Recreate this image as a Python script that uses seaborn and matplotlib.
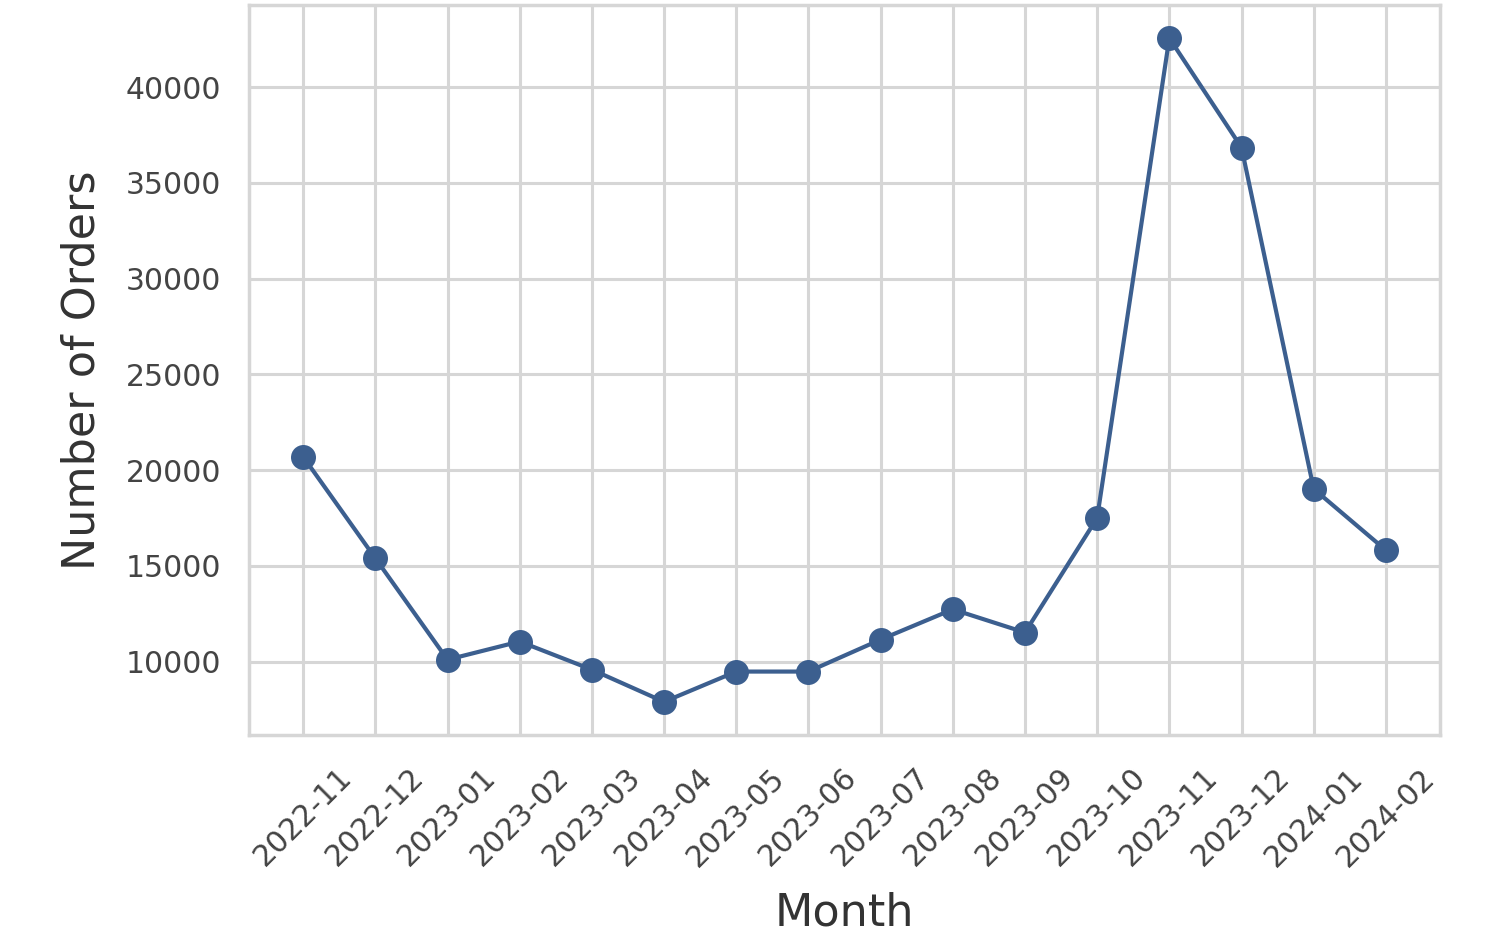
import pandas as pd
import matplotlib
matplotlib.use("Agg")
import matplotlib.pyplot as plt
import seaborn as sns

# monthly order counts
months = ['2022-11', '2022-12', '2023-01', '2023-02', '2023-03', '2023-04',
          '2023-05', '2023-06', '2023-07', '2023-08', '2023-09', '2023-10',
          '2023-11', '2023-12', '2024-01', '2024-02']
orders = [20700, 15400, 10100, 11050, 9580, 7900,
          9480, 9480, 11150, 12730, 11520, 17500,
          42560, 36850, 19020, 15820]

data = pd.DataFrame({'Month': months, 'Orders': orders})

sns.set_theme(style='whitegrid')
plt.rcParams['grid.color'] = '#d6d6d6'
plt.rcParams['grid.linewidth'] = 2.2
plt.rcParams['axes.edgecolor'] = '#d6d6d6'
plt.rcParams['axes.linewidth'] = 2.5

fig = plt.figure(figsize=(14.92, 9.48), dpi=100)
ax = fig.add_axes([249 / 1492, 1 - 735 / 948, (1440 - 249) / 1492, (735 - 5) / 948])

sns.lineplot(x='Month', y='Orders', data=data, marker='o', color='#3c5f8f',
             linewidth=3, markersize=18, markeredgewidth=0, ax=ax)

ax.set_xlabel('Month', fontsize=32, color='#333333', labelpad=14)
ax.set_ylabel('Number of Orders', fontsize=32, color='#333333', labelpad=16)
ax.tick_params(axis='both', labelsize=21.5, colors='#444444', pad=14)
plt.xticks(rotation=45)

fig.savefig('out.png', dpi=100)
